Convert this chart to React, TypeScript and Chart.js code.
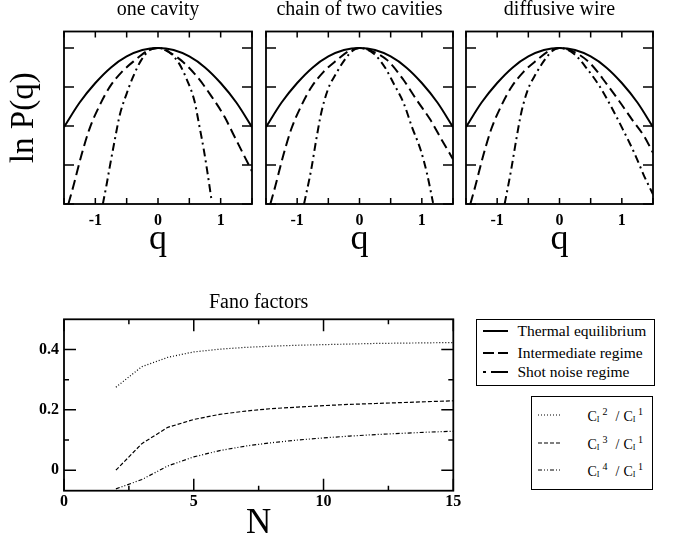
import React, { useEffect, useRef } from 'react';
import { Chart, registerables } from 'chart.js';

Chart.register(...registerables);

const SERIF = '"Liberation Serif", "Times New Roman", serif';

// ---------- top panels: ln P(q) ----------
const panelTitles = ['one cavity', 'chain of two cavities', 'diffusive wire'];
const qTickValues = [-1.5, -1, -0.5, 0, 0.5, 1, 1.5];
const qMajorTicks = [-1.5, -1, -0.5, 0, 0.5, 1, 1.5];
const lnTickValues = [-4, -3, -2, -1, 0];

// Thermal equilibrium (solid), same in all panels
const thermalQ = [-1.5, -1.25, -1, -0.75, -0.5, -0.25, 0, 0.25, 0.5, 0.75, 1, 1.25, 1.5];
const thermalLnP = [-2.03, -1.4, -0.9, -0.5, -0.22, -0.055, 0, -0.055, -0.22, -0.5, -0.9, -1.4, -2.03];

// one cavity
const oneCavityInterQ = [-1.43, -1.35, -1.22, -1.09, -0.93, -0.77, -0.58, -0.37, -0.16, 0, 0.13, 0.37, 0.63, 0.84, 1.06, 1.22, 1.38, 1.5];
const oneCavityInterLnP = [-4.0, -3.54, -2.74, -2.06, -1.47, -1.0, -0.62, -0.32, -0.07, 0, -0.07, -0.32, -0.75, -1.21, -1.76, -2.27, -2.78, -3.16];
const oneCavityShotQ = [-0.88, -0.82, -0.77, -0.69, -0.61, -0.5, -0.4, -0.27, -0.13, 0, 0.18, 0.34, 0.47, 0.58, 0.66, 0.73, 0.79, 0.85];
const oneCavityShotLnP = [-4.0, -3.5, -3.05, -2.36, -1.72, -1.17, -0.75, -0.32, -0.05, 0, -0.11, -0.41, -0.85, -1.35, -2.0, -2.6, -3.2, -3.85];

// chain of two cavities
const twoCavInterQ = [-1.43, -1.35, -1.22, -1.09, -0.93, -0.77, -0.58, -0.37, -0.16, 0, 0.18, 0.45, 0.71, 0.92, 1.14, 1.32, 1.5];
const twoCavInterLnP = [-4.0, -3.54, -2.74, -2.06, -1.47, -1.0, -0.62, -0.32, -0.07, 0, -0.07, -0.32, -0.83, -1.34, -1.85, -2.36, -2.85];
const twoCavShotQ = [-0.89, -0.775, -0.695, -0.616, -0.51, -0.377, -0.244, -0.11, 0, 0.23, 0.42, 0.55, 0.71, 0.84, 0.98, 1.08, 1.18];
const twoCavShotLnP = [-4.0, -3.12, -2.36, -1.68, -1.08, -0.66, -0.32, -0.07, 0, -0.15, -0.53, -0.92, -1.42, -2.02, -2.61, -3.2, -3.97];

// diffusive wire
const wireInterQ = [-1.43, -1.35, -1.22, -1.09, -0.93, -0.77, -0.58, -0.37, -0.16, 0, 0.2, 0.47, 0.755, 0.965, 1.17, 1.36, 1.5];
const wireInterLnP = [-4.0, -3.54, -2.74, -2.06, -1.47, -1.0, -0.62, -0.32, -0.07, 0, -0.08, -0.36, -0.92, -1.38, -1.85, -2.27, -2.69];
const wireShotQ = [-0.88, -0.775, -0.695, -0.616, -0.51, -0.377, -0.244, -0.11, 0, 0.23, 0.44, 0.65, 0.83, 1.02, 1.2, 1.36, 1.5];
const wireShotLnP = [-4.0, -3.12, -2.36, -1.68, -1.08, -0.66, -0.32, -0.07, 0, -0.15, -0.53, -1.0, -1.51, -2.1, -2.69, -3.29, -3.75];

const interQs = [oneCavityInterQ, twoCavInterQ, wireInterQ];
const interLnPs = [oneCavityInterLnP, twoCavInterLnP, wireInterLnP];
const shotQs = [oneCavityShotQ, twoCavShotQ, wireShotQ];
const shotLnPs = [oneCavityShotLnP, twoCavShotLnP, wireShotLnP];

// ---------- bottom panel: Fano factors ----------
const fanoN = [2, 3, 4, 5, 6, 7, 8, 9, 10, 11, 12, 13, 14, 15];
const c2OverC1 = [0.275, 0.343, 0.374, 0.392, 0.401, 0.407, 0.411, 0.414, 0.416, 0.418, 0.42, 0.421, 0.422, 0.423];
const c3OverC1 = [0.0, 0.088, 0.142, 0.168, 0.185, 0.196, 0.204, 0.209, 0.214, 0.218, 0.221, 0.224, 0.227, 0.23];
const c4OverC1 = [-0.062, -0.031, 0.014, 0.044, 0.065, 0.08, 0.091, 0.1, 0.107, 0.113, 0.118, 0.122, 0.126, 0.129];
const nTickValues = [0, 2.5, 5, 7.5, 10, 12.5, 15];
const nMajorTicks = [0, 5, 10, 15];
const fanoTickValues = [0, 0.1, 0.2, 0.3, 0.4];
const fanoMajorTicks = [0, 0.2, 0.4];

const toXY = (xs: number[], ys: number[]) => xs.map((x, i) => ({ x, y: ys[i] }));

const framePlugin = {
  id: 'frame',
  afterDraw(chart: any, _args: any, opts: any) {
    const { ctx, chartArea, scales } = chart;
    const { left, right, top, bottom } = chartArea;
    const xs = scales.x;
    const ys = scales.y;
    ctx.save();
    ctx.strokeStyle = '#000';
    ctx.lineWidth = opts.tickWidth;
    ctx.beginPath();
    xs.ticks.forEach((t: any) => {
      const px = xs.getPixelForValue(t.value);
      const len = opts.xMajor.some((m: number) => Math.abs(m - t.value) < 1e-9) ? opts.xMajorLen : opts.xMinorLen;
      ctx.moveTo(px, bottom);
      ctx.lineTo(px, bottom - len);
      ctx.moveTo(px, top);
      ctx.lineTo(px, top + len);
    });
    ys.ticks.forEach((t: any) => {
      const py = ys.getPixelForValue(t.value);
      const len = opts.yMajor.some((m: number) => Math.abs(m - t.value) < 1e-9) ? opts.yMajorLen : opts.yMinorLen;
      ctx.moveTo(left, py);
      ctx.lineTo(left + len, py);
      ctx.moveTo(right, py);
      ctx.lineTo(right - len, py);
    });
    ctx.stroke();
    ctx.lineWidth = opts.frameWidth;
    ctx.strokeRect(left, top, right - left, bottom - top);
    ctx.restore();
  },
};

function panelConfig(i: number, yWidth: number): any {
  const line = (data: any, dash: number[]) => ({
    data,
    borderColor: '#000',
    borderWidth: 2,
    borderDash: dash,
    pointRadius: 0,
    fill: false,
    cubicInterpolationMode: 'monotone',
  });
  return {
    type: 'line',
    data: {
      datasets: [
        line(toXY(thermalQ, thermalLnP), []),
        line(toXY(interQs[i], interLnPs[i]), [10, 5]),
        line(toXY(shotQs[i], shotLnPs[i]), [8, 4, 2, 4]),
      ],
    },
    plugins: [framePlugin],
    options: {
      responsive: false,
      animation: false,
      events: [],
      layout: { padding: { left: 0, right: 6, top: 0, bottom: 0 } },
      plugins: {
        legend: { display: false },
        tooltip: { enabled: false },
        title: {
          display: true,
          text: panelTitles[i],
          color: '#000',
          fullSize: false,
          font: { family: SERIF, size: 20, weight: 'normal', lineHeight: 1 },
          padding: { top: 0, bottom: 11.5 },
        },
        frame: {
          tickWidth: 1.5,
          frameWidth: 1.8,
          xMajor: qMajorTicks,
          xMajorLen: 6,
          xMinorLen: 6,
          yMajor: lnTickValues,
          yMajorLen: 10,
          yMinorLen: 10,
        },
      },
      scales: {
        x: {
          type: 'linear',
          min: -1.5,
          max: 1.5,
          afterBuildTicks: (s: any) => {
            s.ticks = qTickValues.map((v) => ({ value: v }));
          },
          afterFit: (s: any) => {
            s.height = 56;
          },
          grid: { display: false, drawTicks: false },
          border: { display: false },
          ticks: {
            autoSkip: false,
            maxRotation: 0,
            padding: 7,
            color: '#000',
            font: { family: SERIF, size: 16, weight: 'bold' },
            callback: (v: any) => (Number.isInteger(v) ? String(v) : ''),
          },
          title: {
            display: true,
            text: 'q',
            color: '#000',
            font: { family: SERIF, size: 36, lineHeight: 1 },
            padding: { top: 0, bottom: 2 },
          },
        },
        y: {
          type: 'linear',
          min: -4,
          max: 0.42,
          afterBuildTicks: (s: any) => {
            s.ticks = lnTickValues.map((v) => ({ value: v }));
          },
          afterFit: (s: any) => {
            s.width = yWidth;
          },
          grid: { display: false, drawTicks: false },
          border: { display: false },
          ticks: { display: false },
          title: {
            display: i === 0,
            text: 'ln P(q)',
            color: '#000',
            font: { family: SERIF, size: 33, lineHeight: 1 },
            padding: { top: 8, bottom: 0 },
          },
        },
      },
    },
  };
}

function fanoConfig(): any {
  const line = (data: any, dash: number[]) => ({
    data,
    borderColor: '#000',
    borderWidth: 1.2,
    borderDash: dash,
    pointRadius: 0,
    fill: false,
    tension: 0,
  });
  return {
    type: 'line',
    data: {
      datasets: [
        line(toXY(fanoN, c2OverC1), [1, 2]),
        line(toXY(fanoN, c3OverC1), [4, 2]),
        line(toXY(fanoN, c4OverC1), [4, 2, 1, 2, 1, 2]),
      ],
    },
    plugins: [framePlugin],
    options: {
      responsive: false,
      animation: false,
      events: [],
      layout: { padding: { left: 0, right: 21.7, top: 0, bottom: 0 } },
      plugins: {
        legend: { display: false },
        tooltip: { enabled: false },
        title: {
          display: true,
          text: 'Fano factors',
          color: '#000',
          fullSize: false,
          font: { family: SERIF, size: 20, weight: 'normal', lineHeight: 1 },
          padding: { top: 12.5, bottom: 6.8 },
        },
        frame: {
          tickWidth: 1.5,
          frameWidth: 1.8,
          xMajor: nMajorTicks,
          xMajorLen: 12,
          xMinorLen: 5,
          yMajor: fanoMajorTicks,
          yMajorLen: 12,
          yMinorLen: 5,
        },
      },
      scales: {
        x: {
          type: 'linear',
          min: 0,
          max: 15,
          afterBuildTicks: (s: any) => {
            s.ticks = nTickValues.map((v) => ({ value: v }));
          },
          afterFit: (s: any) => {
            s.height = 48.3;
          },
          grid: { display: false, drawTicks: false },
          border: { display: false },
          ticks: {
            autoSkip: false,
            maxRotation: 0,
            padding: 2,
            color: '#000',
            font: { family: SERIF, size: 16, weight: 'bold' },
            callback: (v: any) => (nMajorTicks.includes(v) ? String(v) : ''),
          },
          title: {
            display: true,
            text: 'N',
            color: '#000',
            font: { family: SERIF, size: 35, lineHeight: 0.9 },
            padding: { top: 0, bottom: -1 },
          },
        },
        y: {
          type: 'linear',
          min: -0.068,
          max: 0.5,
          afterBuildTicks: (s: any) => {
            s.ticks = fanoTickValues.map((v) => ({ value: v }));
          },
          afterFit: (s: any) => {
            s.width = 64;
          },
          grid: { display: false, drawTicks: false },
          border: { display: false },
          ticks: {
            autoSkip: false,
            padding: 5,
            color: '#000',
            font: { family: SERIF, size: 16, weight: 'bold' },
            callback: (v: any) => (fanoMajorTicks.includes(v) ? String(v) : ''),
          },
        },
      },
    },
  };
}

function ChartCanvas({ make, left, top, width, height }: any) {
  const ref = useRef<HTMLCanvasElement>(null);
  useEffect(() => {
    const chart = new Chart(ref.current as HTMLCanvasElement, make());
    return () => chart.destroy();
  }, []);
  return (
    <canvas
      ref={ref}
      width={width}
      height={height}
      style={{ position: 'absolute', left, top, width, height }}
    />
  );
}

function Sample({ left, top, width, dash, lw }: any) {
  return (
    <svg width={width} height={6} style={{ position: 'absolute', left, top: top - 3 }}>
      <line x1={0} y1={3} x2={width} y2={3} stroke="#000" strokeWidth={lw} strokeDasharray={dash} />
    </svg>
  );
}

function Ratio({ k }: { k: number }) {
  const sub = { fontSize: 8, verticalAlign: -1, lineHeight: 0 } as any;
  const sup = { fontSize: 10, verticalAlign: 6, lineHeight: 0 } as any;
  return (
    <span style={{ fontSize: 14 }}>
      C<span style={sub}>I</span>
      <span style={{ ...sup, marginLeft: 3 }}>{k}</span>
      <span style={{ marginLeft: 8, marginRight: 4 }}>/</span>
      C<span style={sub}>I</span>
      <span style={{ ...sup, marginLeft: 2.5 }}>1</span>
    </span>
  );
}

const regimeLabels = ['Thermal equilibrium', 'Intermediate regime', 'Shot noise regime'];
const regimeDashes = ['', '11 4', '3 5 17'];
const ratioOrders = [2, 3, 4];
const ratioDashes = ['1 2', '4 2', '4 2 1 2 1 2'];

export default function App() {
  useEffect(() => {
    document.body.style.margin = '0';
  }, []);
  const textStyle: any = {
    position: 'absolute',
    fontFamily: SERIF,
    fontSize: 15.5,
    lineHeight: '20px',
    whiteSpace: 'nowrap',
    color: '#000',
  };
  const rowsTop = [12.7, 34, 53.7];
  const rowsBottom = [19, 47, 74];
  return (
    <div style={{ position: 'absolute', left: 0, top: 0, width: 673, height: 539, background: '#fff', overflow: 'hidden' }}>
      <ChartCanvas make={() => panelConfig(0, 64)} left={0} top={0} width={259} height={260} />
      <ChartCanvas make={() => panelConfig(1, 6)} left={259} top={0} width={201} height={260} />
      <ChartCanvas make={() => panelConfig(2, 6)} left={459} top={0} width={201} height={260} />
      <ChartCanvas make={fanoConfig} left={0} top={280} width={475} height={259} />

      <div style={{ position: 'absolute', left: 476, top: 319, width: 179, height: 67, border: '1.5px solid #000', boxSizing: 'border-box' }}>
        {regimeLabels.map((lab, i) => (
          <React.Fragment key={lab}>
            <Sample left={6} top={rowsTop[i] - 1.5} width={25} dash={regimeDashes[i]} lw={2} />
            <div style={{ ...textStyle, left: 40.5, top: rowsTop[i] - 1.5 - 10 }}>{lab}</div>
          </React.Fragment>
        ))}
      </div>

      <div style={{ position: 'absolute', left: 531, top: 396, width: 122, height: 94, border: '1.5px solid #000', boxSizing: 'border-box' }}>
        {ratioOrders.map((k, i) => (
          <React.Fragment key={k}>
            <Sample left={6} top={rowsBottom[i] - 1.5} width={22} dash={ratioDashes[i]} lw={1.2} />
            <div style={{ ...textStyle, left: 55.5, top: rowsBottom[i] - 1.5 - 9 }}>
              <Ratio k={k} />
            </div>
          </React.Fragment>
        ))}
      </div>
    </div>
  );
}
